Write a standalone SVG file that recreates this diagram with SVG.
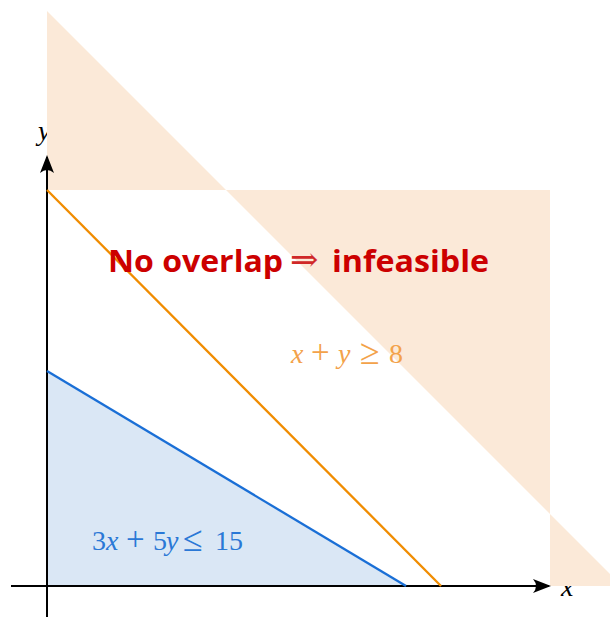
<svg xmlns="http://www.w3.org/2000/svg" width="610" height="617" viewBox="0 0 610 617">
  <defs>
    <style>
      .m { font-family: "Liberation Serif", "DejaVu Serif", serif; font-style: italic; }
      .axis { stroke: #000; stroke-width: 2; fill: none; }
      .title { font-family: "Open Sans", "Noto Sans", sans-serif; font-weight: bold; font-size: 30px; fill: #cc0000; }
      .lbl { font-family: "Liberation Serif", "DejaVu Serif", serif; font-size: 28px; }
    </style>
    <marker id="arr" viewBox="0 0 18 14" refX="16" refY="7" markerUnits="userSpaceOnUse" markerWidth="18" markerHeight="14" orient="auto">
      <path d="M0,0 L18,7 L0,14 Q6,7 0,0 Z" fill="#000"/>
    </marker>
  </defs>
  <rect width="610" height="617" fill="#fff"/>

  <g id="region-blue">
    <polygon points="47,371 406,586 47,586" fill="#dae7f5"/>
  </g>

  <g id="axis-labels">
    <text class="lbl m" x="38" y="140" font-size="26" fill="#000">y</text>
    <text class="lbl m" x="561" y="596" font-size="26" fill="#000">x</text>
  </g>

  <g id="region-orange">
    <path d="M47,11 L622,586 L47,586 Z M47,190 L550,190 L550,586 L47,586 Z" fill="#fbe9d8" fill-rule="evenodd"/>
  </g>

  <g id="connectors">
    <line class="axis" x1="11" y1="586" x2="549" y2="586" marker-end="url(#arr)"/>
    <line class="axis" x1="47" y1="617" x2="47" y2="157" marker-end="url(#arr)"/>
    <line id="line-blue" x1="47" y1="371" x2="406" y2="586" stroke="#1a6fd6" stroke-width="2.3"/>
    <line id="line-orange" x1="47" y1="190" x2="441" y2="586" stroke="#f08c00" stroke-width="2.3"/>
  </g>

  <g id="label-orange">
    <text class="lbl" fill="#f3a24a" y="363"><tspan class="m" x="291">x</tspan><tspan x="311" font-size="33">+</tspan><tspan class="m" x="338">y</tspan><tspan x="360" y="364" font-size="36">≥</tspan><tspan x="389" y="363">8</tspan></text>
  </g>

  <g id="label-blue">
    <text class="lbl" fill="#2a78d6" y="550"><tspan x="92">3</tspan><tspan class="m" x="106">x</tspan><tspan x="126" font-size="33">+</tspan><tspan x="153">5</tspan><tspan class="m" x="166">y</tspan><tspan x="183" y="551" font-size="36">≤</tspan><tspan x="215" y="550">15</tspan></text>
  </g>

  <g id="title">
    <text class="title" y="272"><tspan x="108" textLength="175" lengthAdjust="spacingAndGlyphs">No overlap</tspan><tspan x="290" y="271" font-family="DejaVu Serif, serif" font-weight="normal" font-size="34" fill="#d02828">⇒</tspan><tspan x="332" y="272" textLength="157" lengthAdjust="spacingAndGlyphs">infeasible</tspan></text>
  </g>
</svg>
